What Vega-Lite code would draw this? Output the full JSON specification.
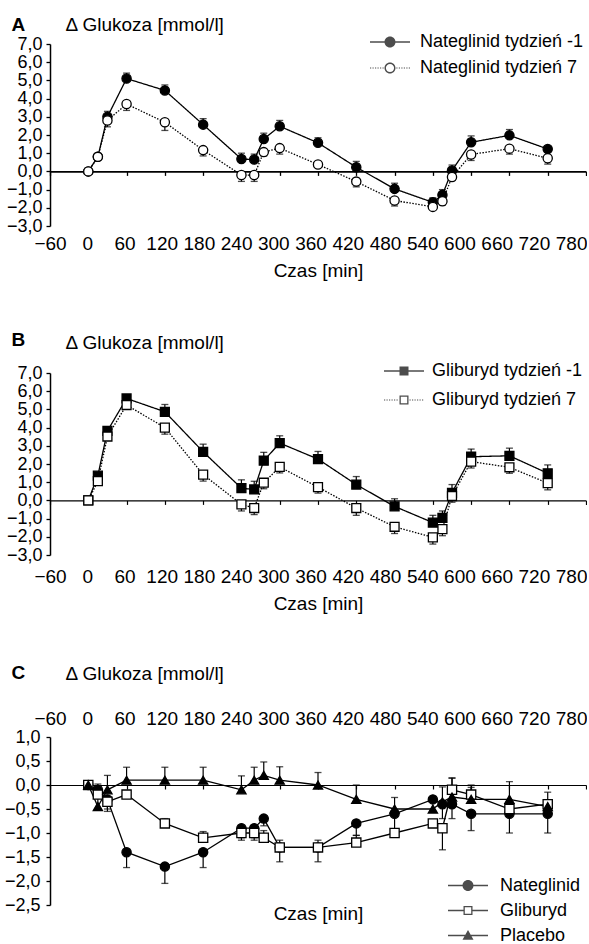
{
"$schema":"https://vega.github.io/schema/vega-lite/v6.json",
"background":"white",
"padding":{"left":4,"top":15,"right":0,"bottom":0},
"spacing":50,
"config":{"view":{"stroke":null},"axis":{"grid":false,"labelFont":"Liberation Sans","titleFont":"Liberation Sans","labelColor":"black","titleColor":"black","domainColor":"black","tickColor":"black","titleFontWeight":"normal"},"legend":{"labelFont":"Liberation Sans","labelColor":"black"}},
"datasets":{
"A":[
{"s":"Nateglinid tydzień -1","t":0,"v":0,"lo":0,"hi":0},
{"s":"Nateglinid tydzień -1","t":15,"v":0.8,"lo":0.8,"hi":0.8},
{"s":"Nateglinid tydzień -1","t":30,"v":3.0,"lo":3.0,"hi":3.3},
{"s":"Nateglinid tydzień -1","t":60,"v":5.1,"lo":5.1,"hi":5.4},
{"s":"Nateglinid tydzień -1","t":120,"v":4.45,"lo":4.45,"hi":4.75},
{"s":"Nateglinid tydzień -1","t":180,"v":2.57,"lo":2.57,"hi":2.9},
{"s":"Nateglinid tydzień -1","t":240,"v":0.68,"lo":0.68,"hi":1.0},
{"s":"Nateglinid tydzień -1","t":260,"v":0.65,"lo":0.65,"hi":0.95},
{"s":"Nateglinid tydzień -1","t":275,"v":1.78,"lo":1.78,"hi":2.1},
{"s":"Nateglinid tydzień -1","t":300,"v":2.48,"lo":2.48,"hi":2.8},
{"s":"Nateglinid tydzień -1","t":360,"v":1.57,"lo":1.57,"hi":1.85},
{"s":"Nateglinid tydzień -1","t":420,"v":0.23,"lo":0.23,"hi":0.55},
{"s":"Nateglinid tydzień -1","t":480,"v":-0.96,"lo":-0.96,"hi":-0.65},
{"s":"Nateglinid tydzień -1","t":540,"v":-1.7,"lo":-1.7,"hi":-1.45},
{"s":"Nateglinid tydzień -1","t":555,"v":-1.29,"lo":-1.29,"hi":-1.0},
{"s":"Nateglinid tydzień -1","t":570,"v":0.05,"lo":0.05,"hi":0.35},
{"s":"Nateglinid tydzień -1","t":600,"v":1.6,"lo":1.6,"hi":1.95},
{"s":"Nateglinid tydzień -1","t":660,"v":1.98,"lo":1.98,"hi":2.3},
{"s":"Nateglinid tydzień -1","t":720,"v":1.23,"lo":1.23,"hi":1.23},
{"s":"Nateglinid tydzień 7","t":0,"v":0,"lo":0,"hi":0},
{"s":"Nateglinid tydzień 7","t":15,"v":0.8,"lo":0.8,"hi":0.8},
{"s":"Nateglinid tydzień 7","t":30,"v":2.8,"lo":2.45,"hi":2.8},
{"s":"Nateglinid tydzień 7","t":60,"v":3.7,"lo":3.35,"hi":3.7},
{"s":"Nateglinid tydzień 7","t":120,"v":2.7,"lo":2.25,"hi":2.7},
{"s":"Nateglinid tydzień 7","t":180,"v":1.17,"lo":0.85,"hi":1.17},
{"s":"Nateglinid tydzień 7","t":240,"v":-0.2,"lo":-0.55,"hi":-0.2},
{"s":"Nateglinid tydzień 7","t":260,"v":-0.2,"lo":-0.55,"hi":-0.2},
{"s":"Nateglinid tydzień 7","t":275,"v":1.06,"lo":0.85,"hi":1.06},
{"s":"Nateglinid tydzień 7","t":300,"v":1.28,"lo":0.95,"hi":1.28},
{"s":"Nateglinid tydzień 7","t":360,"v":0.38,"lo":0.38,"hi":0.38},
{"s":"Nateglinid tydzień 7","t":420,"v":-0.56,"lo":-0.85,"hi":-0.56},
{"s":"Nateglinid tydzień 7","t":480,"v":-1.6,"lo":-1.9,"hi":-1.6},
{"s":"Nateglinid tydzień 7","t":540,"v":-1.95,"lo":-2.1,"hi":-1.95},
{"s":"Nateglinid tydzień 7","t":555,"v":-1.64,"lo":-1.85,"hi":-1.64},
{"s":"Nateglinid tydzień 7","t":570,"v":-0.31,"lo":-0.5,"hi":-0.31},
{"s":"Nateglinid tydzień 7","t":600,"v":0.93,"lo":0.6,"hi":0.93},
{"s":"Nateglinid tydzień 7","t":660,"v":1.25,"lo":0.95,"hi":1.25},
{"s":"Nateglinid tydzień 7","t":720,"v":0.72,"lo":0.4,"hi":0.72}
],
"B":[
{"s":"Gliburyd tydzień -1","t":0,"v":0,"lo":0,"hi":0},
{"s":"Gliburyd tydzień -1","t":15,"v":1.36,"lo":1.36,"hi":1.36},
{"s":"Gliburyd tydzień -1","t":30,"v":3.82,"lo":3.82,"hi":3.95},
{"s":"Gliburyd tydzień -1","t":60,"v":5.6,"lo":5.6,"hi":5.75},
{"s":"Gliburyd tydzień -1","t":120,"v":4.87,"lo":4.87,"hi":5.27},
{"s":"Gliburyd tydzień -1","t":180,"v":2.67,"lo":2.67,"hi":3.09},
{"s":"Gliburyd tydzień -1","t":240,"v":0.67,"lo":0.67,"hi":1.13},
{"s":"Gliburyd tydzień -1","t":260,"v":0.6,"lo":0.6,"hi":1.05},
{"s":"Gliburyd tydzień -1","t":275,"v":2.18,"lo":2.18,"hi":2.64},
{"s":"Gliburyd tydzień -1","t":300,"v":3.15,"lo":3.15,"hi":3.55},
{"s":"Gliburyd tydzień -1","t":360,"v":2.27,"lo":2.27,"hi":2.69},
{"s":"Gliburyd tydzień -1","t":420,"v":0.87,"lo":0.87,"hi":1.31},
{"s":"Gliburyd tydzień -1","t":480,"v":-0.33,"lo":-0.33,"hi":0.09},
{"s":"Gliburyd tydzień -1","t":540,"v":-1.22,"lo":-1.22,"hi":-0.82},
{"s":"Gliburyd tydzień -1","t":555,"v":-0.96,"lo":-0.96,"hi":-0.58},
{"s":"Gliburyd tydzień -1","t":570,"v":0.42,"lo":0.42,"hi":0.87},
{"s":"Gliburyd tydzień -1","t":600,"v":2.4,"lo":2.4,"hi":2.82},
{"s":"Gliburyd tydzień -1","t":660,"v":2.45,"lo":2.45,"hi":2.87},
{"s":"Gliburyd tydzień -1","t":720,"v":1.49,"lo":1.49,"hi":1.95},
{"s":"Gliburyd tydzień 7","t":0,"v":0,"lo":0,"hi":0},
{"s":"Gliburyd tydzień 7","t":15,"v":1.06,"lo":1.06,"hi":1.06},
{"s":"Gliburyd tydzień 7","t":30,"v":3.51,"lo":3.4,"hi":3.51},
{"s":"Gliburyd tydzień 7","t":60,"v":5.24,"lo":5.1,"hi":5.24},
{"s":"Gliburyd tydzień 7","t":120,"v":4.0,"lo":3.64,"hi":4.0},
{"s":"Gliburyd tydzień 7","t":180,"v":1.42,"lo":1.06,"hi":1.42},
{"s":"Gliburyd tydzień 7","t":240,"v":-0.22,"lo":-0.58,"hi":-0.22},
{"s":"Gliburyd tydzień 7","t":260,"v":-0.42,"lo":-0.78,"hi":-0.42},
{"s":"Gliburyd tydzień 7","t":275,"v":0.97,"lo":0.64,"hi":0.97},
{"s":"Gliburyd tydzień 7","t":300,"v":1.84,"lo":1.51,"hi":1.84},
{"s":"Gliburyd tydzień 7","t":360,"v":0.73,"lo":0.4,"hi":0.73},
{"s":"Gliburyd tydzień 7","t":420,"v":-0.42,"lo":-0.82,"hi":-0.42},
{"s":"Gliburyd tydzień 7","t":480,"v":-1.45,"lo":-1.82,"hi":-1.45},
{"s":"Gliburyd tydzień 7","t":540,"v":-2.03,"lo":-2.4,"hi":-2.03},
{"s":"Gliburyd tydzień 7","t":555,"v":-1.58,"lo":-1.94,"hi":-1.58},
{"s":"Gliburyd tydzień 7","t":570,"v":0.24,"lo":-0.1,"hi":0.24},
{"s":"Gliburyd tydzień 7","t":600,"v":2.13,"lo":1.78,"hi":2.13},
{"s":"Gliburyd tydzień 7","t":660,"v":1.82,"lo":1.49,"hi":1.82},
{"s":"Gliburyd tydzień 7","t":720,"v":0.95,"lo":0.58,"hi":0.95}
],
"C":[
{"s":"Nateglinid","t":0,"v":0,"lo":0,"hi":0},
{"s":"Nateglinid","t":15,"v":-0.1,"lo":-0.1,"hi":-0.1},
{"s":"Nateglinid","t":30,"v":-0.3,"lo":-0.5,"hi":-0.3},
{"s":"Nateglinid","t":60,"v":-1.4,"lo":-1.72,"hi":-1.4},
{"s":"Nateglinid","t":120,"v":-1.7,"lo":-2.05,"hi":-1.7},
{"s":"Nateglinid","t":180,"v":-1.4,"lo":-1.72,"hi":-1.4},
{"s":"Nateglinid","t":240,"v":-0.9,"lo":-1.1,"hi":-0.9},
{"s":"Nateglinid","t":260,"v":-0.9,"lo":-1.1,"hi":-0.9},
{"s":"Nateglinid","t":275,"v":-0.7,"lo":-0.85,"hi":-0.7},
{"s":"Nateglinid","t":300,"v":-1.3,"lo":-1.3,"hi":-1.3},
{"s":"Nateglinid","t":360,"v":-1.3,"lo":-1.3,"hi":-1.3},
{"s":"Nateglinid","t":420,"v":-0.8,"lo":-1.05,"hi":-0.8},
{"s":"Nateglinid","t":480,"v":-0.6,"lo":-0.92,"hi":-0.6},
{"s":"Nateglinid","t":540,"v":-0.3,"lo":-0.3,"hi":-0.3},
{"s":"Nateglinid","t":555,"v":-0.4,"lo":-0.7,"hi":-0.4},
{"s":"Nateglinid","t":570,"v":-0.4,"lo":-0.7,"hi":-0.4},
{"s":"Nateglinid","t":600,"v":-0.6,"lo":-0.95,"hi":-0.6},
{"s":"Nateglinid","t":660,"v":-0.6,"lo":-1.0,"hi":-0.6},
{"s":"Nateglinid","t":720,"v":-0.6,"lo":-1.0,"hi":-0.6},
{"s":"Gliburyd","t":0,"v":0,"lo":0,"hi":0},
{"s":"Gliburyd","t":15,"v":-0.2,"lo":-0.2,"hi":-0.2},
{"s":"Gliburyd","t":30,"v":-0.35,"lo":-0.55,"hi":-0.35},
{"s":"Gliburyd","t":60,"v":-0.2,"lo":-0.2,"hi":-0.2},
{"s":"Gliburyd","t":120,"v":-0.8,"lo":-0.8,"hi":-0.7},
{"s":"Gliburyd","t":180,"v":-1.1,"lo":-1.1,"hi":-0.97},
{"s":"Gliburyd","t":240,"v":-1.0,"lo":-1.15,"hi":-1.0},
{"s":"Gliburyd","t":260,"v":-1.0,"lo":-1.15,"hi":-1.0},
{"s":"Gliburyd","t":275,"v":-1.1,"lo":-1.1,"hi":-0.95},
{"s":"Gliburyd","t":300,"v":-1.3,"lo":-1.6,"hi":-1.15},
{"s":"Gliburyd","t":360,"v":-1.3,"lo":-1.6,"hi":-1.15},
{"s":"Gliburyd","t":420,"v":-1.2,"lo":-1.2,"hi":-1.05},
{"s":"Gliburyd","t":480,"v":-1.0,"lo":-1.0,"hi":-1.0},
{"s":"Gliburyd","t":540,"v":-0.8,"lo":-0.8,"hi":-0.75},
{"s":"Gliburyd","t":555,"v":-0.9,"lo":-1.35,"hi":-0.9},
{"s":"Gliburyd","t":570,"v":-0.1,"lo":-0.1,"hi":0.15},
{"s":"Gliburyd","t":600,"v":-0.2,"lo":-0.2,"hi":-0.05},
{"s":"Gliburyd","t":660,"v":-0.5,"lo":-0.5,"hi":-0.5},
{"s":"Gliburyd","t":720,"v":-0.4,"lo":-0.4,"hi":-0.15},
{"s":"Placebo","t":0,"v":0,"lo":0,"hi":0},
{"s":"Placebo","t":15,"v":-0.45,"lo":-0.45,"hi":0.02},
{"s":"Placebo","t":30,"v":-0.1,"lo":-0.1,"hi":0.2},
{"s":"Placebo","t":60,"v":0.1,"lo":0.1,"hi":0.37},
{"s":"Placebo","t":120,"v":0.1,"lo":0.1,"hi":0.37},
{"s":"Placebo","t":180,"v":0.1,"lo":0.1,"hi":0.37},
{"s":"Placebo","t":240,"v":-0.1,"lo":-0.1,"hi":0.19},
{"s":"Placebo","t":260,"v":0.1,"lo":0.1,"hi":0.37},
{"s":"Placebo","t":275,"v":0.2,"lo":0.2,"hi":0.48},
{"s":"Placebo","t":300,"v":0.1,"lo":0.1,"hi":0.38},
{"s":"Placebo","t":360,"v":0.0,"lo":0.0,"hi":0.26},
{"s":"Placebo","t":420,"v":-0.3,"lo":-0.3,"hi":0.0},
{"s":"Placebo","t":480,"v":-0.5,"lo":-0.5,"hi":-0.26},
{"s":"Placebo","t":540,"v":-0.5,"lo":-0.5,"hi":-0.5},
{"s":"Placebo","t":555,"v":-0.35,"lo":-0.35,"hi":-0.04},
{"s":"Placebo","t":570,"v":-0.25,"lo":-0.25,"hi":0.14},
{"s":"Placebo","t":600,"v":-0.3,"lo":-0.3,"hi":0.0},
{"s":"Placebo","t":660,"v":-0.3,"lo":-0.3,"hi":0.07},
{"s":"Placebo","t":720,"v":-0.45,"lo":-0.45,"hi":-0.45}
]
},
"vconcat":[
{
"width":536,"height":182,
"data":{"name":"A"},
"resolve":{"scale":{"shape":"independent","x":"independent"},"axis":{"x":"independent","y":"independent"}},
"layer":[
{"mark":{"type":"rule","color":"black","strokeWidth":1.2},
"encoding":{
"x":{"field":"t","type":"quantitative","scale":{"domain":[-60,780],"nice":false,"zero":false},"axis":null},
"y":{"field":"lo","type":"quantitative","scale":{"domain":[-3,7],"nice":false,"zero":false},"axis":{"orient":"left","offset":0,"values":[-3,-2,-1,0,1,2,3,4,5,6,7],"labelExpr":"replace(format(datum.value, '.1f'), '.', ',')","labelFontSize":18,"labelPadding":4,"tickSize":4,"tickWidth":1.3,"domainWidth":1.5,"title":"Δ  Glukoza [mmol/l]","titleFontSize":19,"titleAngle":0,"titleAlign":"left","titleBaseline":"alphabetic","titleX":15,"titleY":-14}},
"y2":{"field":"hi"}}},
{"transform":[{"filter":"datum.lo != datum.v"}],
"mark":{"type":"tick","orient":"horizontal","color":"black","size":7,"thickness":1.3},
"encoding":{"x":{"field":"t","type":"quantitative","scale":{"domain":[-60,780],"nice":false,"zero":false},"axis":null},"y":{"field":"lo","type":"quantitative","scale":{"domain":[-3,7],"nice":false,"zero":false},"axis":null}}},
{"transform":[{"filter":"datum.hi != datum.v"}],
"mark":{"type":"tick","orient":"horizontal","color":"black","size":7,"thickness":1.3},
"encoding":{"x":{"field":"t","type":"quantitative","scale":{"domain":[-60,780],"nice":false,"zero":false},"axis":null},"y":{"field":"hi","type":"quantitative","scale":{"domain":[-3,7],"nice":false,"zero":false},"axis":null}}},
{"mark":{"type":"line","color":"black","strokeWidth":1.3},
"encoding":{
"x":{"field":"t","type":"quantitative","scale":{"domain":[-60,780],"nice":false,"zero":false},"axis":{"orient":"bottom","offset":-54.6,"domain":true,"domainWidth":1.8,"ticks":true,"tickSize":4,"tickWidth":1.3,"labels":false,"values":[-60,0,60,120,180,240,300,360,420,480,540,600,660,720,780],"title":null}},
"y":{"field":"v","type":"quantitative","scale":{"domain":[-3,7],"nice":false,"zero":false},"axis":{"orient":"left","offset":0,"domain":false,"ticks":false,"labels":false,"title":"A","titleFontWeight":"bold","titleFontSize":19,"titleAngle":0,"titleAlign":"left","titleBaseline":"alphabetic","titleX":-39,"titleY":-14}},
"strokeDash":{"field":"s","type":"nominal","scale":{"domain":["Nateglinid tydzień -1","Nateglinid tydzień 7"],"range":[[1,0],[1.5,1.5]]},"legend":null}}},
{"mark":{"type":"point","filled":true,"stroke":"black","strokeWidth":1.3,"size":85,"opacity":1},
"encoding":{
"x":{"field":"t","type":"quantitative","scale":{"domain":[-60,780],"nice":false,"zero":false},"axis":null},
"y":{"field":"v","type":"quantitative","scale":{"domain":[-3,7],"nice":false,"zero":false},"axis":null},
"shape":{"field":"s","type":"nominal","scale":{"domain":["Nateglinid tydzień -1","Nateglinid tydzień 7"],"range":["circle","circle"]},"legend":null},
"fill":{"field":"s","type":"nominal","scale":{"domain":["Nateglinid tydzień -1","Nateglinid tydzień 7"],"range":["black","white"]},"legend":null}}},
{"mark":{"type":"point","filled":true,"color":"black","strokeWidth":0,"size":0},
"encoding":{
"x":{"field":"t","type":"quantitative","scale":{"domain":[-60,804],"nice":false,"zero":false},"axis":{"orient":"bottom","offset":0,"domain":false,"ticks":false,"tickSize":0,"values":[-60,0,60,120,180,240,300,360,420,480,540,600,660,720,780],"labelFontSize":19,"labelPadding":8,"labelFlush":false,"labelOverlap":false,"title":"Czas [min]","titleFontSize":19,"titlePadding":8}},
"y":{"field":"v","type":"quantitative","scale":{"domain":[-3,7],"nice":false,"zero":false},"axis":null},
"shape":{"field":"s","type":"nominal","scale":{"domain":["Nateglinid tydzień -1","Nateglinid tydzień 7"],"range":["M-2,-0.07H2V0.07H-2Z M0.55,0A0.55,0.55,0,1,1,-0.55,0A0.55,0.55,0,1,1,0.55,0Z","M-2,-0.06h0.12v0.12h-0.12Z M-1.75,-0.06h0.12v0.12h-0.12Z M-1.5,-0.06h0.12v0.12h-0.12Z M-1.25,-0.06h0.12v0.12h-0.12Z M-1,-0.06h0.12v0.12h-0.12Z M-0.75,-0.06h0.12v0.12h-0.12Z M0.63,-0.06h0.12v0.12h-0.12Z M0.88,-0.06h0.12v0.12h-0.12Z M1.13,-0.06h0.12v0.12h-0.12Z M1.38,-0.06h0.12v0.12h-0.12Z M1.63,-0.06h0.12v0.12h-0.12Z M1.88,-0.06h0.12v0.12h-0.12Z M0.55,0A0.55,0.55,0,1,1,-0.55,0A0.55,0.55,0,1,1,0.55,0Z M0.41,0A0.41,0.41,0,1,0,-0.41,0A0.41,0.41,0,1,0,0.41,0Z"]},
"legend":{"orient":"none","legendX":330,"legendY":-12,"title":null,"symbolSize":400,"symbolStrokeWidth":0,"labelFontSize":18,"labelOffset":20,"rowPadding":7,"labelLimit":300,"padding":0}}}}
]
},
{
"width":536,"height":182,
"data":{"name":"B"},
"resolve":{"scale":{"shape":"independent","x":"independent"},"axis":{"x":"independent","y":"independent"}},
"layer":[
{"mark":{"type":"rule","color":"black","strokeWidth":1.2},
"encoding":{
"x":{"field":"t","type":"quantitative","scale":{"domain":[-60,780],"nice":false,"zero":false},"axis":null},
"y":{"field":"lo","type":"quantitative","scale":{"domain":[-3,7],"nice":false,"zero":false},"axis":{"orient":"left","offset":0,"values":[-3,-2,-1,0,1,2,3,4,5,6,7],"labelExpr":"replace(format(datum.value, '.1f'), '.', ',')","labelFontSize":18,"labelPadding":4,"tickSize":4,"tickWidth":1.3,"domainWidth":1.5,"title":"Δ  Glukoza [mmol/l]","titleFontSize":19,"titleAngle":0,"titleAlign":"left","titleBaseline":"alphabetic","titleX":15,"titleY":-25}},
"y2":{"field":"hi"}}},
{"transform":[{"filter":"datum.lo != datum.v"}],
"mark":{"type":"tick","orient":"horizontal","color":"black","size":7,"thickness":1.3},
"encoding":{"x":{"field":"t","type":"quantitative","scale":{"domain":[-60,780],"nice":false,"zero":false},"axis":null},"y":{"field":"lo","type":"quantitative","scale":{"domain":[-3,7],"nice":false,"zero":false},"axis":null}}},
{"transform":[{"filter":"datum.hi != datum.v"}],
"mark":{"type":"tick","orient":"horizontal","color":"black","size":7,"thickness":1.3},
"encoding":{"x":{"field":"t","type":"quantitative","scale":{"domain":[-60,780],"nice":false,"zero":false},"axis":null},"y":{"field":"hi","type":"quantitative","scale":{"domain":[-3,7],"nice":false,"zero":false},"axis":null}}},
{"mark":{"type":"line","color":"black","strokeWidth":1.3},
"encoding":{
"x":{"field":"t","type":"quantitative","scale":{"domain":[-60,780],"nice":false,"zero":false},"axis":{"orient":"bottom","offset":-54.6,"domain":true,"domainWidth":1.2,"ticks":true,"tickSize":4,"tickWidth":1.2,"labels":false,"values":[-60,0,60,120,180,240,300,360,420,480,540,600,660,720,780],"title":null}},
"y":{"field":"v","type":"quantitative","scale":{"domain":[-3,7],"nice":false,"zero":false},"axis":{"orient":"left","offset":0,"domain":false,"ticks":false,"labels":false,"title":"B","titleFontWeight":"bold","titleFontSize":19,"titleAngle":0,"titleAlign":"left","titleBaseline":"alphabetic","titleX":-39,"titleY":-28}},
"strokeDash":{"field":"s","type":"nominal","scale":{"domain":["Gliburyd tydzień -1","Gliburyd tydzień 7"],"range":[[1,0],[1.5,1.5]]},"legend":null}}},
{"mark":{"type":"point","filled":true,"stroke":"black","strokeWidth":1.3,"size":80,"opacity":1},
"encoding":{
"x":{"field":"t","type":"quantitative","scale":{"domain":[-60,780],"nice":false,"zero":false},"axis":null},
"y":{"field":"v","type":"quantitative","scale":{"domain":[-3,7],"nice":false,"zero":false},"axis":null},
"shape":{"field":"s","type":"nominal","scale":{"domain":["Gliburyd tydzień -1","Gliburyd tydzień 7"],"range":["square","square"]},"legend":null},
"fill":{"field":"s","type":"nominal","scale":{"domain":["Gliburyd tydzień -1","Gliburyd tydzień 7"],"range":["black","white"]},"legend":null}}},
{"mark":{"type":"point","filled":true,"color":"black","strokeWidth":0,"size":0},
"encoding":{
"x":{"field":"t","type":"quantitative","scale":{"domain":[-60,804],"nice":false,"zero":false},"axis":{"orient":"bottom","offset":0,"domain":false,"ticks":false,"tickSize":0,"values":[-60,0,60,120,180,240,300,360,420,480,540,600,660,720,780],"labelFontSize":19,"labelPadding":12,"labelFlush":false,"labelOverlap":false,"title":"Czas [min]","titleFontSize":19,"titlePadding":8}},
"y":{"field":"v","type":"quantitative","scale":{"domain":[-3,7],"nice":false,"zero":false},"axis":null},
"shape":{"field":"s","type":"nominal","scale":{"domain":["Gliburyd tydzień -1","Gliburyd tydzień 7"],"range":["M-2,-0.07H2V0.07H-2Z M-0.45,-0.45H0.45V0.45H-0.45Z","M-2,-0.06h0.12v0.12h-0.12Z M-1.75,-0.06h0.12v0.12h-0.12Z M-1.5,-0.06h0.12v0.12h-0.12Z M-1.25,-0.06h0.12v0.12h-0.12Z M-1,-0.06h0.12v0.12h-0.12Z M-0.75,-0.06h0.12v0.12h-0.12Z M0.55,-0.06h0.12v0.12h-0.12Z M0.8,-0.06h0.12v0.12h-0.12Z M1.05,-0.06h0.12v0.12h-0.12Z M1.3,-0.06h0.12v0.12h-0.12Z M1.55,-0.06h0.12v0.12h-0.12Z M1.8,-0.06h0.12v0.12h-0.12Z M-0.45,-0.45H0.45V0.45H-0.45Z M-0.32,-0.32V0.32H0.32V-0.32Z"]},
"legend":{"orient":"none","legendX":344,"legendY":-12,"title":null,"symbolSize":400,"symbolStrokeWidth":0,"labelFontSize":18,"labelOffset":18,"rowPadding":10,"labelLimit":300,"padding":0}}}}
]
},
{
"width":536,"height":168,
"data":{"name":"C"},
"resolve":{"scale":{"shape":"independent","x":"independent"},"axis":{"x":"independent","y":"independent"}},
"layer":[
{"mark":{"type":"rule","color":"black","strokeWidth":1.2},
"encoding":{
"x":{"field":"t","type":"quantitative","scale":{"domain":[-60,780],"nice":false,"zero":false},"axis":null},
"y":{"field":"lo","type":"quantitative","scale":{"domain":[-2.5,1],"nice":false,"zero":false},"axis":{"orient":"left","offset":0,"values":[-2.5,-2,-1.5,-1,-0.5,0,0.5,1],"labelExpr":"replace(format(datum.value, '.1f'), '.', ',')","labelFontSize":18,"labelPadding":6,"tickSize":4,"tickWidth":1.3,"domainWidth":1.5,"title":"Δ  Glukoza [mmol/l]","titleFontSize":19,"titleAngle":0,"titleAlign":"left","titleBaseline":"alphabetic","titleX":15,"titleY":-58}},
"y2":{"field":"hi"}}},
{"transform":[{"filter":"datum.lo != datum.v"}],
"mark":{"type":"tick","orient":"horizontal","color":"black","size":7,"thickness":1.3},
"encoding":{"x":{"field":"t","type":"quantitative","scale":{"domain":[-60,780],"nice":false,"zero":false},"axis":null},"y":{"field":"lo","type":"quantitative","scale":{"domain":[-2.5,1],"nice":false,"zero":false},"axis":null}}},
{"transform":[{"filter":"datum.hi != datum.v"}],
"mark":{"type":"tick","orient":"horizontal","color":"black","size":7,"thickness":1.3},
"encoding":{"x":{"field":"t","type":"quantitative","scale":{"domain":[-60,780],"nice":false,"zero":false},"axis":null},"y":{"field":"hi","type":"quantitative","scale":{"domain":[-2.5,1],"nice":false,"zero":false},"axis":null}}},
{"mark":{"type":"line","color":"black","strokeWidth":1.3},
"encoding":{
"x":{"field":"t","type":"quantitative","scale":{"domain":[-60,780],"nice":false,"zero":false},"axis":{"orient":"bottom","offset":-120,"domain":true,"domainWidth":1.2,"ticks":true,"tickSize":4,"tickWidth":1.2,"labels":false,"values":[-60,0,60,120,180,240,300,360,420,480,540,600,660,720,780],"title":"Czas [min]","titleFontSize":19,"titleBaseline":"middle","titleY":128}},
"y":{"field":"v","type":"quantitative","scale":{"domain":[-2.5,1],"nice":false,"zero":false},"axis":{"orient":"left","offset":0,"domain":false,"ticks":false,"labels":false,"title":"C","titleFontWeight":"bold","titleFontSize":19,"titleAngle":0,"titleAlign":"left","titleBaseline":"alphabetic","titleX":-39,"titleY":-59}},
"detail":{"field":"s","type":"nominal"}}},
{"mark":{"type":"point","filled":true,"stroke":"black","strokeWidth":1.3,"size":85,"opacity":1},
"encoding":{
"x":{"field":"t","type":"quantitative","scale":{"domain":[-60,780],"nice":false,"zero":false},"axis":null},
"y":{"field":"v","type":"quantitative","scale":{"domain":[-2.5,1],"nice":false,"zero":false},"axis":null},
"shape":{"field":"s","type":"nominal","scale":{"domain":["Nateglinid","Gliburyd","Placebo"],"range":["circle","square","triangle-up"]},"legend":null},
"fill":{"field":"s","type":"nominal","scale":{"domain":["Nateglinid","Gliburyd","Placebo"],"range":["black","white","black"]},"legend":null}}},
{"mark":{"type":"point","filled":true,"color":"black","strokeWidth":0,"size":0},
"encoding":{
"x":{"field":"t","type":"quantitative","scale":{"domain":[-60,804],"nice":false,"zero":false},"axis":{"orient":"top","offset":0,"domain":false,"ticks":false,"tickSize":0,"values":[-60,0,60,120,180,240,300,360,420,480,540,600,660,720,780],"labelFontSize":19,"labelPadding":9,"labelFlush":false,"labelOverlap":false,"title":null}},
"y":{"field":"v","type":"quantitative","scale":{"domain":[-2.5,1],"nice":false,"zero":false},"axis":null},
"shape":{"field":"s","type":"nominal","scale":{"domain":["Nateglinid","Gliburyd","Placebo"],"range":["M-2,-0.07H2V0.07H-2Z M0.55,0A0.55,0.55,0,1,1,-0.55,0A0.55,0.55,0,1,1,0.55,0Z","M-2,-0.07H-0.45V0.07H-2Z M0.45,-0.07H2V0.07H0.45Z M-0.45,-0.45H0.45V0.45H-0.45Z M-0.32,-0.32V0.32H0.32V-0.32Z","M-2,-0.07H2V0.07H-2Z M0,-0.55L0.55,0.42L-0.55,0.42Z"]},
"legend":{"orient":"none","legendX":408,"legendY":138.5,"title":null,"symbolSize":400,"symbolStrokeWidth":0,"labelFontSize":18,"labelOffset":22,"rowPadding":6,"labelLimit":300,"padding":0}}}}
]
}
]
}
